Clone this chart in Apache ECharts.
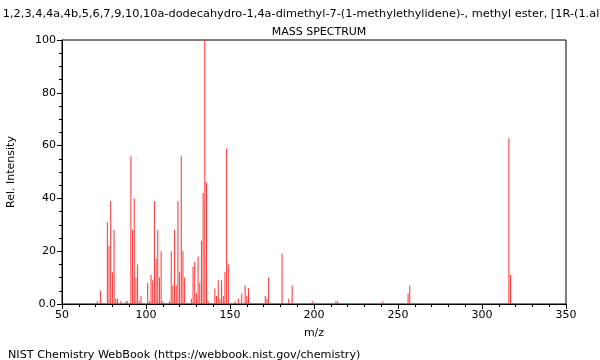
<!DOCTYPE html>
<html>
<head>
<meta charset="utf-8">
<script src="https://cdn.jsdelivr.net/npm/echarts@6/dist/echarts.min.js"></script>
<style>
html,body{margin:0;padding:0;background:#fff;}
#c{width:600px;height:360px;}
</style>
</head>
<body>
<div id="c"></div>
<script>
var compoundName = "1-Phenanthrenecarboxylic acid, 1,2,3,4,4a,4b,5,6,7,9,10,10a-dodecahydro-1,4a-dimethyl-7-(1-methylethylidene)-, methyl ester, [1R-(1.alpha.,4a.beta.,4b.alpha.,10a.alpha.)]-";
var chartTitle = "MASS SPECTRUM";
var xAxisName = "m/z";
var yAxisName = "Rel. Intensity";
var footer = "NIST Chemistry WebBook (https://webbook.nist.gov/chemistry)";

var mz = [71,73,77,78,79,80,81,82,83,85,88,89,91,92,93,94,95,96,97,101,102,103,104,105,106,107,108,109,110,
          114,115,116,117,118,119,120,121,122,123,127,128,129,130,131,132,133,134,135,136,137,
          141,142,143,144,145,146,147,148,149,153,155,157,159,160,161,171,172,173,181,185,187,199,213,214,241,256,257,316,317];
var intensity = [1,5,31,22,39,12,28,2,2,1,1,1,56,28,40,10,15,1,3,8,1,11,9,39,17,28,10,20,1,
          1,20,7,28,7,39,12,56,20,10,2,14,16,4,18,8,24,42,100,46,1,
          6,3,9,2,9,3,12,59,15,1,2,4,7,3,6,3,2,10,19,2,7,1,1,1,1,4,7,63,11];

var xMin = 50, xMax = 350, xStep = 50;
var yMin = 0, yMax = 100, yStep = 20;

var data = mz.map(function(m, i){ return [m, intensity[i]]; });

var chart = echarts.init(document.getElementById('c'), null, {renderer:'canvas'});
var font = 'DejaVu Sans';
chart.setOption({
  animation: false,
  backgroundColor: '#fff',
  textStyle: {fontFamily: font},
  title: [
    {text: compoundName, left: 309, textAlign: 'center', top: 4,
     textStyle: {fontFamily: font, fontSize: 11.33, fontWeight: 'normal', color: '#000'}},
    {text: chartTitle, left: 314, textAlign: 'center', top: 22,
     textStyle: {fontFamily: font, fontSize: 11, fontWeight: 'normal', color: '#000'}},
    {text: footer, left: 3, top: 345,
     textStyle: {fontFamily: font, fontSize: 11.2, fontWeight: 'normal', color: '#000'}}
  ],
  grid: {left: 62, right: 34, top: 40, bottom: 56, show: true, borderColor: '#000', borderWidth: 1,
         backgroundColor: 'transparent', outerBoundsMode: 'none', containLabel: false},
  xAxis: {
    type: 'value', min: xMin, max: xMax, interval: xStep,
    name: xAxisName, nameLocation: 'middle', nameGap: 24,
    nameTextStyle: {fontFamily: font, fontSize: 11, color: '#000'},
    axisLine: {show: true, onZero: false, lineStyle: {color: '#000', width: 1}},
    axisTick: {show: true, length: 5, lineStyle: {color: '#000'}},
    minorTick: {show: true, splitNumber: 5, length: 3, lineStyle: {color: '#000'}},
    axisLabel: {fontFamily: font, fontSize: 11, color: '#000', margin: 6},
    splitLine: {show: false}
  },
  yAxis: {
    type: 'value', min: yMin, max: yMax, interval: yStep,
    name: yAxisName, nameLocation: 'middle', nameGap: 45, nameRotate: 90,
    nameTextStyle: {fontFamily: font, fontSize: 11, color: '#000'},
    axisLine: {show: true, lineStyle: {color: '#000', width: 1}},
    axisTick: {show: true, length: 5, lineStyle: {color: '#000'}},
    minorTick: {show: true, splitNumber: 4, length: 3, lineStyle: {color: '#000'}},
    axisLabel: {fontFamily: font, fontSize: 11, color: '#000', margin: 6,
      formatter: function(v){ return v === 0 ? '0.0' : String(v); }},
    splitLine: {show: false}
  },
  series: [{
    type: 'bar',
    data: data,
    barWidth: 1,
    itemStyle: {color: '#ff3030'},
    emphasis: {disabled: true},
    silent: true
  }]
});
</script>
</body>
</html>
